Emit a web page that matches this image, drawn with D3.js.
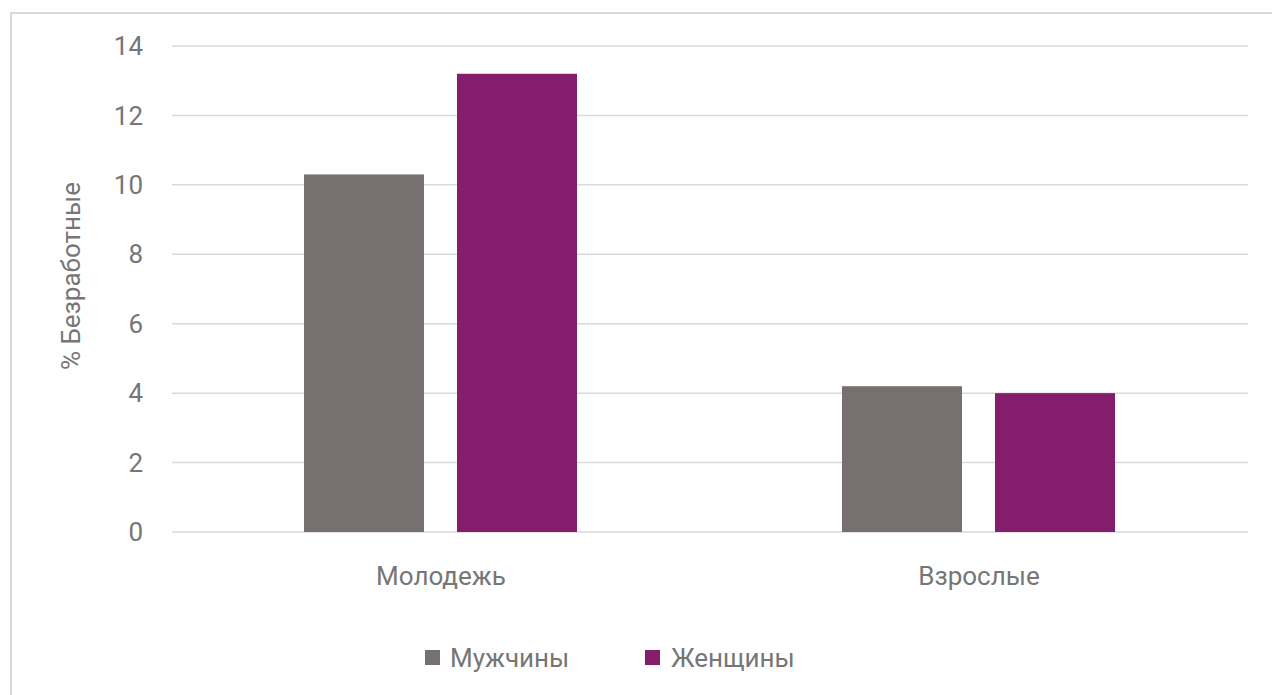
<!DOCTYPE html>
<html>
<head>
<script src="https://d3js.org/d3.v7.min.js"></script>
<style>
	body { margin: 0; background: #fff; }
	text { font-family: Roboto, "Open Sans", sans-serif; fill: #767676; }
</style>
</head>
<body>
<script>
	var width = 1272;
	var height = 695;

	// data
	var categories = ["Молодежь", "Взрослые"];
	var seriesNames = ["Мужчины", "Женщины"];
	var menValues = [10.3, 4.2];
	var womenValues = [13.2, 4.0];
	var yTicks = [0, 2, 4, 6, 8, 10, 12, 14];
	var colors = ["#767170", "#841e6c"];

	var plotLeft = 172, plotRight = 1248, plotTop = 46, plotBottom = 532;
	var fontSize = "26px";

	var svg = d3.select("body")
		.append("svg")
		.attr("width", width)
		.attr("height", height);

	// chart border
	svg.append("rect")
		.attr("x", 11)
		.attr("y", 13)
		.attr("width", width + 20)
		.attr("height", height + 20)
		.attr("fill", "none")
		.attr("stroke", "#d9d9d9")
		.attr("stroke-width", 2);

	var y = d3.scaleLinear().domain([0, 14]).range([plotBottom, plotTop]);
	var x0 = d3.scaleBand().domain(categories).range([plotLeft, plotRight]);
	// two 120px bars with a 33px gap, centred in each band
	var x1 = d3.scaleBand().domain(seriesNames)
		.range([132, x0.bandwidth() - 133])
		.paddingInner(33 / 153);

	// grid
	svg.append("g").selectAll("line")
		.data(yTicks)
		.enter()
		.append("line")
		.attr("x1", plotLeft)
		.attr("x2", plotRight)
		.attr("y1", d => y(d))
		.attr("y2", d => y(d))
		.attr("stroke", "#d9d9d9")
		.attr("stroke-width", 1.5);

	svg.append("g").selectAll("text")
		.data(yTicks)
		.enter()
		.append("text")
		.attr("x", 143)
		.attr("y", d => y(d))
		.attr("dy", "0.35em")
		.attr("text-anchor", "end")
		.style("font-size", fontSize)
		.text(d => d);

	// bars
	var rows = categories.map((c, i) => ({cat: c, vals: [menValues[i], womenValues[i]]}));
	var groups = svg.append("g").selectAll("g")
		.data(rows)
		.enter()
		.append("g")
		.attr("transform", d => "translate(" + x0(d.cat) + ",0)");
	groups.selectAll("rect")
		.data(d => d.vals.map((v, j) => ({name: seriesNames[j], v: v, c: colors[j]})))
		.enter()
		.append("rect")
		.attr("x", d => x1(d.name))
		.attr("width", x1.bandwidth())
		.attr("y", d => y(d.v))
		.attr("height", d => plotBottom - y(d.v))
		.attr("fill", d => d.c);

	// category labels
	svg.append("g").selectAll("text")
		.data(categories)
		.enter()
		.append("text")
		.attr("x", d => x0(d) + x0.bandwidth() / 2)
		.attr("y", 585)
		.attr("text-anchor", "middle")
		.style("font-size", fontSize)
		.text(d => d);

	// y axis title
	svg.append("text")
		.attr("transform", "translate(80,276) rotate(-90)")
		.attr("text-anchor", "middle")
		.style("font-size", fontSize)
		.text("% Безработные");

	// legend
	var legendX = [425, 645];
	var lg = svg.append("g").selectAll("g")
		.data(seriesNames)
		.enter()
		.append("g")
		.attr("transform", (d, i) => "translate(" + legendX[i] + ",650)");
	lg.append("rect")
		.attr("width", 15)
		.attr("height", 15)
		.attr("fill", (d, i) => colors[i]);
	lg.append("text")
		.attr("x", (d, i) => i === 0 ? 25 : 26)
		.attr("y", 17)
		.style("font-size", fontSize)
		.text(d => d);
</script>
</body>
</html>
